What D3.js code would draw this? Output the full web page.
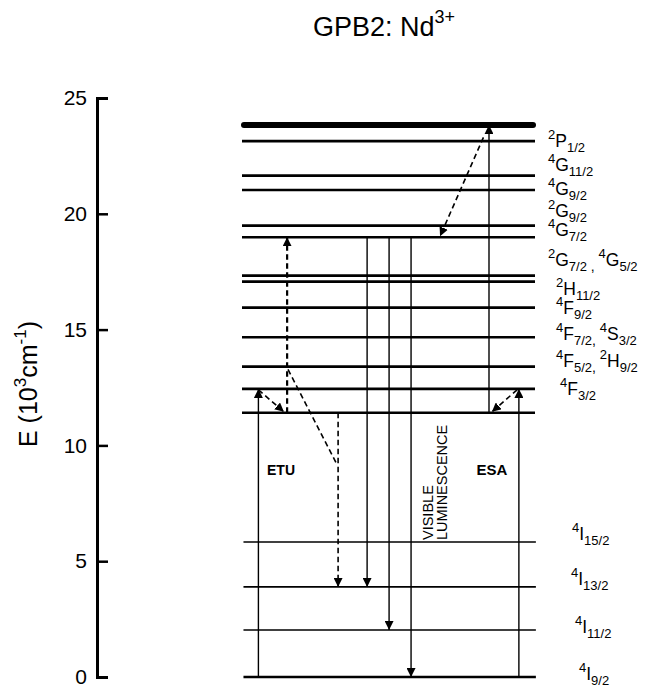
<!DOCTYPE html>
<html><head><meta charset="utf-8">
<script src="https://cdn.jsdelivr.net/npm/d3@7"></script>
<style>
body{margin:0;background:#fff}
svg{display:block}
text{font-family:"Liberation Sans", Arial, Helvetica, sans-serif; fill:#000; white-space:pre}
</style>
</head><body>
<svg id="c" width="653" height="690"></svg>
<script>
// ---------- data (energies in 10^3 cm^-1) ----------
const yTicks = [0, 5, 10, 15, 20, 25];
const groundMultiplet = [0, 2.03, 3.89, 5.83];              // 4I9/2 .. 4I15/2
const excitedLevels = [11.41, 12.44, 13.40, 14.67, 15.95, 17.07, 17.33, 18.99, 19.49, 21.03, 21.65, 23.14];
const bandEdge = [23.83];

// labels: [superscript, letter, subscript] terms
const labelTerms = [
  [["2","P","1/2"]],
  [["4","G","11/2"]],
  [["4","G","9/2"]],
  [["2","G","9/2"]],
  [["4","G","7/2"]],
  [["2","G","7/2"],["4","G","5/2"]],
  [["2","H","11/2"]],
  [["4","F","9/2"]],
  [["4","F","7/2"],["4","S","3/2"]],
  [["4","F","5/2"],["2","H","9/2"]],
  [["4","F","3/2"]],
  [["4","I","15/2"]],
  [["4","I","13/2"]],
  [["4","I","11/2"]],
  [["4","I","9/2"]]
];
const labelEnergy = [22.88, 21.85, 20.81, 19.86, 19.04, 17.75, 16.49, 15.67, 14.55, 13.39, 12.18, 5.92, 3.97, 1.90, -0.12];

// transitions: [position (0-100 across the level width), E] start -> end
const solidArrows = [
  [[5.6, 0], [5.6, 12.44]],        // ETU pump
  [[94.5, 0], [94.5, 12.44]],      // ESA pump
  [[84.3, 11.41], [84.3, 23.83]],  // ESA second step
  [[42.7, 18.99], [42.7, 3.89]],
  [[50.2, 18.99], [50.2, 2.03]],
  [[57.7, 18.99], [57.7, 0]]
];
const dashedArrows = [
  [[5.6, 12.40], [14.3, 11.45]],
  [[15.4, 11.41], [15.4, 18.99]],
  [[32.8, 11.41], [32.8, 3.89]],
  [[93.9, 12.40], [85.3, 11.45]],
  [[82.4, 23.30], [67.6, 19.03]]
];
const dashedLines = [
  [[15.7, 13.28], [32.4, 9.18]]
];

// ---------- layout ----------
const svg = d3.select("#c");
const y = d3.scaleLinear().domain([0, 25]).range([677, 98]);
const x = d3.scaleLinear().domain([0, 100]).range([242, 535]);

// marker
const defs = svg.append("defs");
defs.append("marker").attr("id","head")
  .attr("viewBox","0 0 9 9").attr("refX",9).attr("refY",4.5)
  .attr("markerWidth",9).attr("markerHeight",9)
  .attr("markerUnits","userSpaceOnUse").attr("orient","auto")
  .append("path").attr("d","M0,0L9,4.5L0,9Z").attr("fill","#000");

// title
const title = svg.append("text").attr("x", 313).attr("y", 36).attr("font-size", 27);
title.append("tspan").text("GPB2: Nd");
title.append("tspan").attr("font-size", 18).attr("dy", -13).text("3+");

// y axis
const axis = d3.axisLeft(y).tickValues(yTicks).tickSize(-11).tickPadding(10).tickFormat(d3.format("d"));
const ag = svg.append("g").attr("transform","translate(97,0)").call(axis);
ag.select(".domain").attr("stroke","#000").attr("stroke-width",3).attr("fill","none");
ag.selectAll(".tick line").attr("stroke","#000").attr("stroke-width",2.5);
ag.selectAll(".tick text").attr("font-size",21).attr("font-family",'"Liberation Sans", Arial, sans-serif').attr("fill","#000");

// y label
const yl = svg.append("text").attr("transform","translate(37,384) rotate(-90)")
  .attr("text-anchor","middle").attr("font-size",25);
yl.append("tspan").text("E (10");
yl.append("tspan").attr("font-size",17).attr("dy",-11).text("3");
yl.append("tspan").attr("dy",11).text("cm");
yl.append("tspan").attr("font-size",17).attr("dy",-11).text("-1");
yl.append("tspan").attr("dy",11).text(")");

// levels
const lv = svg.append("g");
lv.selectAll("line.g").data(groundMultiplet).join("line")
  .attr("x1", x(0.5)).attr("x2", x(100.3))
  .attr("y1", d => y(d)).attr("y2", d => y(d))
  .attr("stroke","#000").attr("stroke-width", (d,i) => i === 0 ? 2.4 : 1.6);
lv.selectAll("line.e").data(excitedLevels).join("line")
  .attr("x1", x(0)).attr("x2", x(100))
  .attr("y1", d => y(d)).attr("y2", d => y(d))
  .attr("stroke","#000").attr("stroke-width", 2.6);
lv.selectAll("line.b").data(bandEdge).join("line")
  .attr("x1", x(0) + 2).attr("x2", x(100) - 2)
  .attr("y1", d => y(d)).attr("y2", d => y(d))
  .attr("stroke","#000").attr("stroke-width", 6).attr("stroke-linecap","round");

// transitions
const tr = svg.append("g").attr("fill","none").attr("stroke","#000");
tr.selectAll("line.s").data(solidArrows).join("line")
  .attr("x1", d => x(d[0][0])).attr("y1", d => y(d[0][1]))
  .attr("x2", d => x(d[1][0])).attr("y2", d => y(d[1][1]))
  .attr("stroke-width", 1.4).attr("marker-end","url(#head)");
tr.selectAll("line.d").data(dashedArrows).join("line")
  .attr("x1", d => x(d[0][0])).attr("y1", d => y(d[0][1]))
  .attr("x2", d => x(d[1][0])).attr("y2", d => y(d[1][1]))
  .attr("stroke-width", (d,i) => i === 1 ? 2.2 : 1.6)
  .attr("stroke-dasharray","5.5,3.5").attr("marker-end","url(#head)");
tr.selectAll("line.dl").data(dashedLines).join("line")
  .attr("x1", d => x(d[0][0])).attr("y1", d => y(d[0][1]))
  .attr("x2", d => x(d[1][0])).attr("y2", d => y(d[1][1]))
  .attr("stroke-width", 1.6).attr("stroke-dasharray","5.5,3.5");

// annotations
svg.append("text").attr("x", 281).attr("y", 475).attr("text-anchor","middle")
  .attr("font-size",14).attr("font-weight","bold").text("ETU");
svg.append("text").attr("x", 492).attr("y", 475).attr("text-anchor","middle")
  .attr("font-size",15).attr("font-weight","bold").text("ESA");
svg.append("text").attr("transform","translate(433,540) rotate(-90)")
  .attr("font-size",14.5).text("VISIBLE");
svg.append("text").attr("transform","translate(447,540) rotate(-90)")
  .attr("font-size",14.5).text("LUMINESCENCE");

// level labels
const labelDx = [13,13,13,13,13,13,21,21,21,21,25,37,36,40,44];
const SUP = -8, SUB = 5;
labelTerms.forEach((terms, i) => {
  const t = svg.append("text").attr("x", x(100) + labelDx[i]).attr("y", y(labelEnergy[i]));
  let cur = 0;
  terms.forEach((term, j) => {
    if (j > 0) {
      t.append("tspan").attr("font-size", 14).attr("dy", SUB - cur).text(i === 5 ? " , " : ", ");
      cur = SUB;
    }
    t.append("tspan").attr("font-size", 13).attr("dy", SUP - cur).text(term[0]); cur = SUP;
    t.append("tspan").attr("font-size", 17.5).attr("dy", 0 - cur).text(term[1]); cur = 0;
    t.append("tspan").attr("font-size", 13).attr("dy", SUB - cur).text(term[2]); cur = SUB;
  });
});
</script>
</body></html>
